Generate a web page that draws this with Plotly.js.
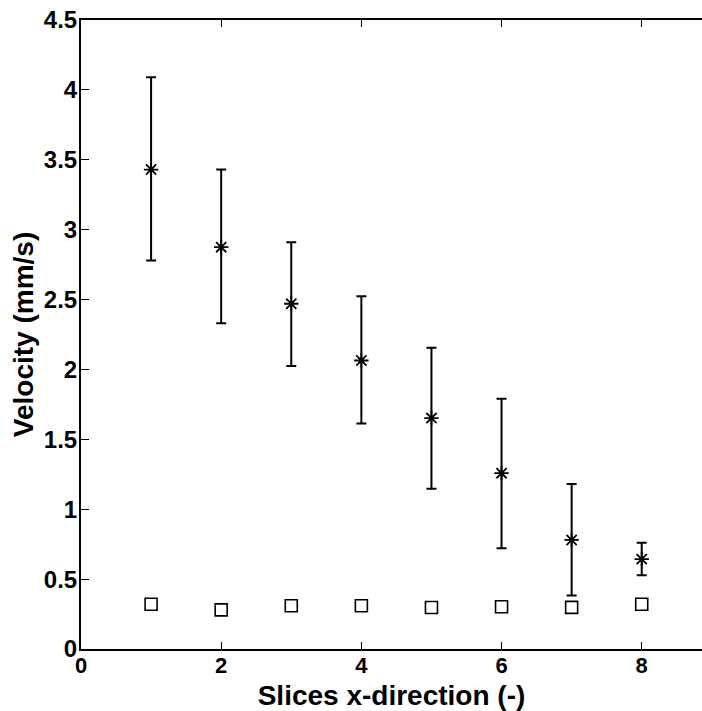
<!DOCTYPE html>
<html>
<head>
<meta charset="utf-8">
<script src="https://cdn.plot.ly/plotly-3.0.1.min.js"></script>
<style>html,body{margin:0;padding:0;background:#fff;}#chart{width:702px;height:711px;}</style>
</head>
<body>
<div id="chart"></div>
<script>
var slices = [1, 2, 3, 4, 5, 6, 7, 8];
var meanVelocity = [3.43, 2.875, 2.47, 2.064, 1.652, 1.258, 0.78, 0.643];
var upperVelocity = [4.09, 3.43, 2.91, 2.524, 2.155, 1.79, 1.18, 0.76];
var lowerVelocity = [2.78, 2.33, 2.025, 1.613, 1.146, 0.72, 0.383, 0.528];
var squareVelocity = [0.32, 0.28, 0.309, 0.309, 0.297, 0.302, 0.298, 0.32];
var xTicks = [0, 2, 4, 6, 8];
var yTicks = [0, 0.5, 1, 1.5, 2, 2.5, 3, 3.5, 4, 4.5];

var errPlus = upperVelocity.map(function(u, i){ return u - meanVelocity[i]; });
var errMinus = lowerVelocity.map(function(l, i){ return meanVelocity[i] - l; });

var fontFam = 'Liberation Sans, Arial, Helvetica, sans-serif';

var traces = [
  {
    x: slices, y: meanVelocity, type: 'scatter', mode: 'markers',
    marker: {symbol: 'asterisk-open', size: 12, color: '#000', line: {color: '#000', width: 1.8}},
    error_y: {type: 'data', symmetric: false, array: errPlus, arrayminus: errMinus,
              color: '#000', thickness: 2, width: 5},
    showlegend: false, hoverinfo: 'x+y'
  },
  {
    x: slices, y: squareVelocity, type: 'scatter', mode: 'markers',
    marker: {symbol: 'square-open', size: 12, color: '#000', line: {color: '#000', width: 1.6}},
    showlegend: false, hoverinfo: 'x+y'
  }
];

var layout = {
  width: 702, height: 711,
  margin: {l: 81, r: 0, t: 20, b: 62},
  paper_bgcolor: '#fff', plot_bgcolor: '#fff',
  font: {family: fontFam, color: '#000'},
  xaxis: {
    range: [0, 8.86], tickvals: xTicks, ticktext: xTicks.map(function(v){ return '<b>' + v + '</b>'; }),
    ticks: 'inside', ticklen: 7, tickwidth: 1, tickcolor: '#000',
    showline: true, linecolor: '#000', linewidth: 2, mirror: 'ticks',
    showgrid: false, zeroline: false, ticklabelstandoff: -4,
    tickfont: {family: fontFam, size: 22, color: '#000'},
    title: {text: '<b>Slices x-direction (-)</b>', font: {family: fontFam, size: 28, color: '#000'}, standoff: 8}
  },
  yaxis: {
    range: [0, 4.5], tickvals: yTicks, ticktext: yTicks.map(function(v){ return '<b>' + v + '</b>'; }),
    ticks: 'inside', ticklen: 8, tickwidth: 1, tickcolor: '#000',
    showline: true, linecolor: '#000', linewidth: 2, mirror: false,
    showgrid: false, zeroline: false, ticklabelstandoff: -3,
    tickfont: {family: fontFam, size: 24, color: '#000'},
    title: {text: '<b>Velocity (mm/s)</b>', font: {family: fontFam, size: 28, color: '#000'}, standoff: 2}
  }
};

Plotly.newPlot('chart', traces, layout, {displayModeBar: false, staticPlot: true});
</script>
</body>
</html>
